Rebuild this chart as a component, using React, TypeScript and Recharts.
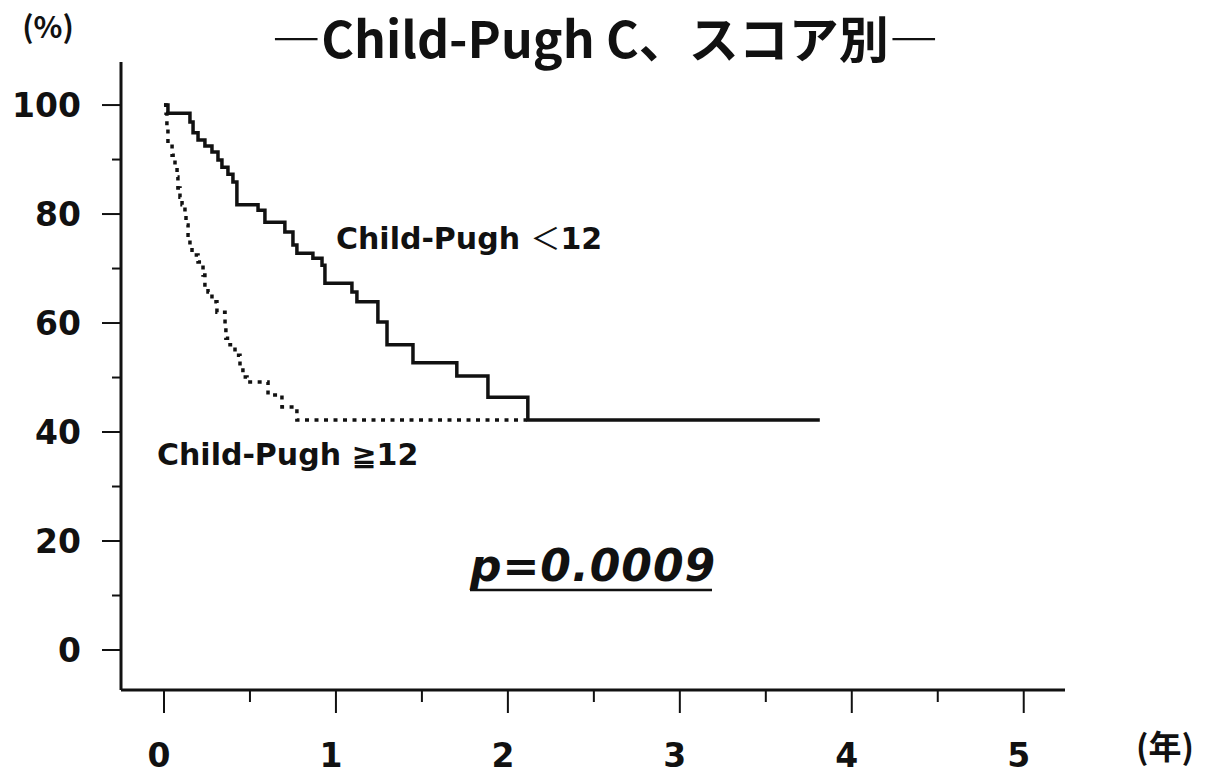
import { LineChart, Line, XAxis, YAxis } from "recharts";

// Child-Pugh <12 (solid), step points: [year, survival %]
const lowTimes = [0, 0.023, 0.151, 0.169, 0.198, 0.238, 0.279, 0.314, 0.337, 0.372, 0.401, 0.424, 0.547, 0.587, 0.703, 0.75, 0.773, 0.866, 0.919, 0.936, 1.093, 1.122, 1.244, 1.297, 1.448, 1.703, 1.884, 2.116, 3.814];
const lowSurv = [100, 98.5, 96.9, 94.9, 93.6, 92.5, 91.4, 89.9, 88.6, 87.3, 85.9, 81.7, 80.7, 78.5, 76.7, 74.3, 72.8, 71.9, 70.6, 67.3, 65.7, 63.9, 60.2, 56.0, 52.7, 50.3, 46.4, 42.2, 42.2];

// Child-Pugh >=12 (dotted)
const highTimes = [0, 0.012, 0.017, 0.023, 0.047, 0.064, 0.076, 0.081, 0.093, 0.105, 0.122, 0.128, 0.14, 0.151, 0.163, 0.198, 0.227, 0.238, 0.256, 0.279, 0.308, 0.355, 0.36, 0.384, 0.413, 0.442, 0.459, 0.483, 0.605, 0.686, 0.773, 2.11];
const highSurv = [100, 98.5, 96.0, 93.0, 90.8, 89.0, 86.8, 84.8, 83.1, 81.7, 79.8, 78.0, 76.1, 74.3, 72.5, 71.2, 68.8, 67.0, 65.7, 63.9, 62.0, 59.6, 57.2, 56.0, 54.1, 51.9, 50.1, 49.2, 46.8, 44.6, 42.2, 42.2];

const xTicks = [0, 0.5, 1, 1.5, 2, 2.5, 3, 3.5, 4, 4.5, 5];
const yTicks = [0, 10, 20, 30, 40, 50, 60, 70, 80, 90, 100];

const lowData = lowTimes.map((t, i) => ({ t, s: lowSurv[i] }));
const highData = highTimes.map((t, i) => ({ t, s: highSurv[i] }));

const INK = "#111";
const SANS = "'DejaVu Sans', Verdana, sans-serif";
const JP = "'Noto Sans CJK JP', sans-serif";

function XTick(props: any) {
  const { x, y, payload } = props;
  const major = Number.isInteger(payload.value);
  return (
    <g>
      <line x1={x} x2={x} y1={y + 1} y2={y + (major ? 23 : 12)} stroke={INK} strokeWidth={2} />
      {major && (
        <text x={x - 5} y={y + 77} textAnchor="middle" fontFamily={SANS} fontWeight="bold" fontSize={33} fill={INK}>
          {payload.value}
        </text>
      )}
    </g>
  );
}

function YTick(props: any) {
  const { x, y, payload } = props;
  const major = payload.value % 20 === 0;
  return (
    <g>
      <line x1={x - (major ? 19 : 9)} x2={x} y1={y} y2={y} stroke={INK} strokeWidth={2} />
      {major && (
        <text x={81} y={y + 12} textAnchor="end" fontFamily={SANS} fontWeight="bold" fontSize={33} fill={INK}>
          {payload.value}
        </text>
      )}
    </g>
  );
}

export default function App() {
  return (
    <div style={{ position: "absolute", left: 0, top: 0, width: 1210, height: 774, background: "#fff", overflow: "hidden" }}>
      <LineChart width={1210} height={774} margin={{ top: 62, right: 145, bottom: 0, left: 0 }}>
        <XAxis
          type="number"
          dataKey="t"
          domain={[-0.25, 5.24]}
          allowDataOverflow
          ticks={xTicks}
          interval={0}
          height={84}
          tickSize={0}
          tickMargin={0}
          tickLine={false}
          axisLine={{ stroke: INK, strokeWidth: 3 }}
          tick={<XTick />}
        />
        <YAxis
          type="number"
          domain={[-7.34, 107.9]}
          allowDataOverflow
          ticks={yTicks}
          interval={0}
          width={121}
          tickSize={0}
          tickMargin={0}
          tickLine={false}
          axisLine={{ stroke: INK, strokeWidth: 3 }}
          tick={<YTick />}
        />
        <Line
          data={highData}
          dataKey="s"
          type="stepAfter"
          stroke={INK}
          strokeWidth={3.5}
          strokeDasharray="4 5.5"
          dot={false}
          isAnimationActive={false}
        />
        <Line
          data={lowData}
          dataKey="s"
          type="stepAfter"
          stroke={INK}
          strokeWidth={3.5}
          dot={false}
          isAnimationActive={false}
        />
      </LineChart>
      <svg width={1210} height={774} style={{ position: "absolute", left: 0, top: 0, pointerEvents: "none" }}>
        <text x={605} y={58} textAnchor="middle" fontFamily={JP} fontWeight="bold" fontSize={50} fill={INK}>
          ―Child-Pugh C、スコア別―
        </text>
        <text x={48} y={38} textAnchor="middle" fontFamily={JP} fontWeight="bold" fontSize={30} fill={INK}>
          (%)
        </text>
        <text x={1165} y={759} textAnchor="middle" fontFamily={JP} fontWeight="bold" fontSize={33} fill={INK}>
          (年)
        </text>
        <text x={336} y={249} fontFamily={SANS} fontWeight="bold" fontSize={30} fill={INK}>
          Child-Pugh <tspan fontFamily={JP} fontWeight="normal">＜</tspan>12
        </text>
        <text x={157} y={465} fontFamily={SANS} fontWeight="bold" fontSize={30} fill={INK}>
          Child-Pugh ≧12
        </text>
        <text x={470} y={581} fontFamily={SANS} fontWeight="bold" fontStyle="italic" fontSize={44} letterSpacing={1} fill={INK}>
          p=0.0009
        </text>
        <line x1={470} x2={712} y1={590} y2={590} stroke={INK} strokeWidth={2.5} />
      </svg>
    </div>
  );
}
